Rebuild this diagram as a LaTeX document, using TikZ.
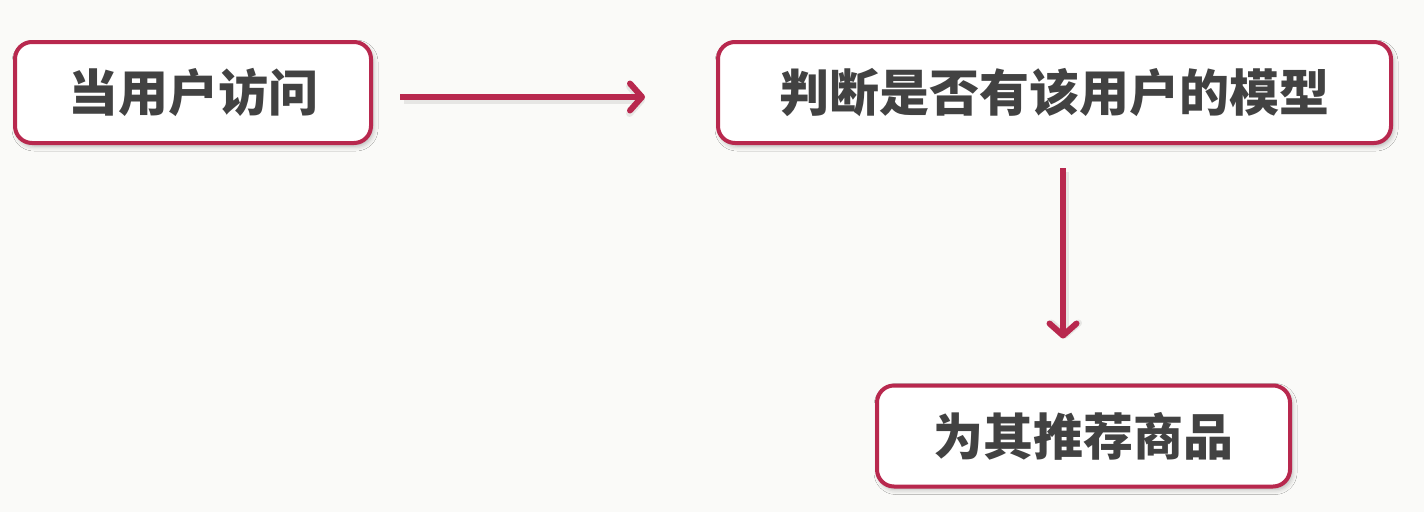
\documentclass[tikz,border=0pt]{standalone}
\usepackage{fontspec}
\newfontfamily\cjk{Noto Sans CJK SC}
\usetikzlibrary{arrows.meta,shadows.blur}
\definecolor{frame}{HTML}{B8284E}
\definecolor{ink}{HTML}{424242}
\definecolor{paper}{HTML}{FAFAF8}
\tikzset{
  stepbox/.style={draw=frame, line width=4pt, rounded corners=17pt, fill=white,
    inner sep=0pt, minimum height=101pt, text=ink,
    font=\cjk\bfseries\fontsize{50pt}{50pt}\selectfont,
    blur shadow={shadow xshift=2pt, shadow yshift=-3pt, shadow blur radius=5pt,
      shadow opacity=30}},
  flow/.style={draw=frame, line width=6pt,
    -{Straight Barb[length=12pt,width=27pt,line width=6pt,round]}},
  flowshade/.style={draw=black, opacity=0.08, line width=7pt,
    -{Straight Barb[length=12pt,width=27pt,line width=7pt,round]}}
}
\begin{document}
\begin{tikzpicture}[x=1pt,y=-1pt]
  \fill[paper] (0,0) rectangle (1424,512);
  \useasboundingbox (0,0) rectangle (1424,512);

  \node[stepbox, minimum width=356pt] (visit) at (193,92.5) {当用户访问};
  \node[stepbox, minimum width=673pt] (check) at (1054.5,92.5) {判断是否有该用户的模型};
  \node[stepbox, minimum width=413pt] (recommend) at (1083.5,436) {为其推荐商品};

  % soft shadows under the connectors
  \draw[flowshade, shorten <=29pt, shorten >=73pt]
    ([yshift=-7.5pt,xshift=2pt]visit.east) -- ([yshift=-7.5pt,xshift=2pt]check.west);
  \draw[flowshade, shorten <=25pt, shorten >=47pt]
    ([xshift=10.5pt,yshift=-2pt]check.south) -- ([xshift=10.5pt,yshift=-2pt]check.south |- recommend.north);

  % connectors
  \draw[flow, shorten <=27pt, shorten >=71pt]
    ([yshift=-4.5pt]visit.east) -- ([yshift=-4.5pt]check.west);
  \draw[flow, shorten <=23pt, shorten >=45pt]
    ([xshift=8.5pt]check.south) -- ([xshift=8.5pt]check.south |- recommend.north);
\end{tikzpicture}
\end{document}
